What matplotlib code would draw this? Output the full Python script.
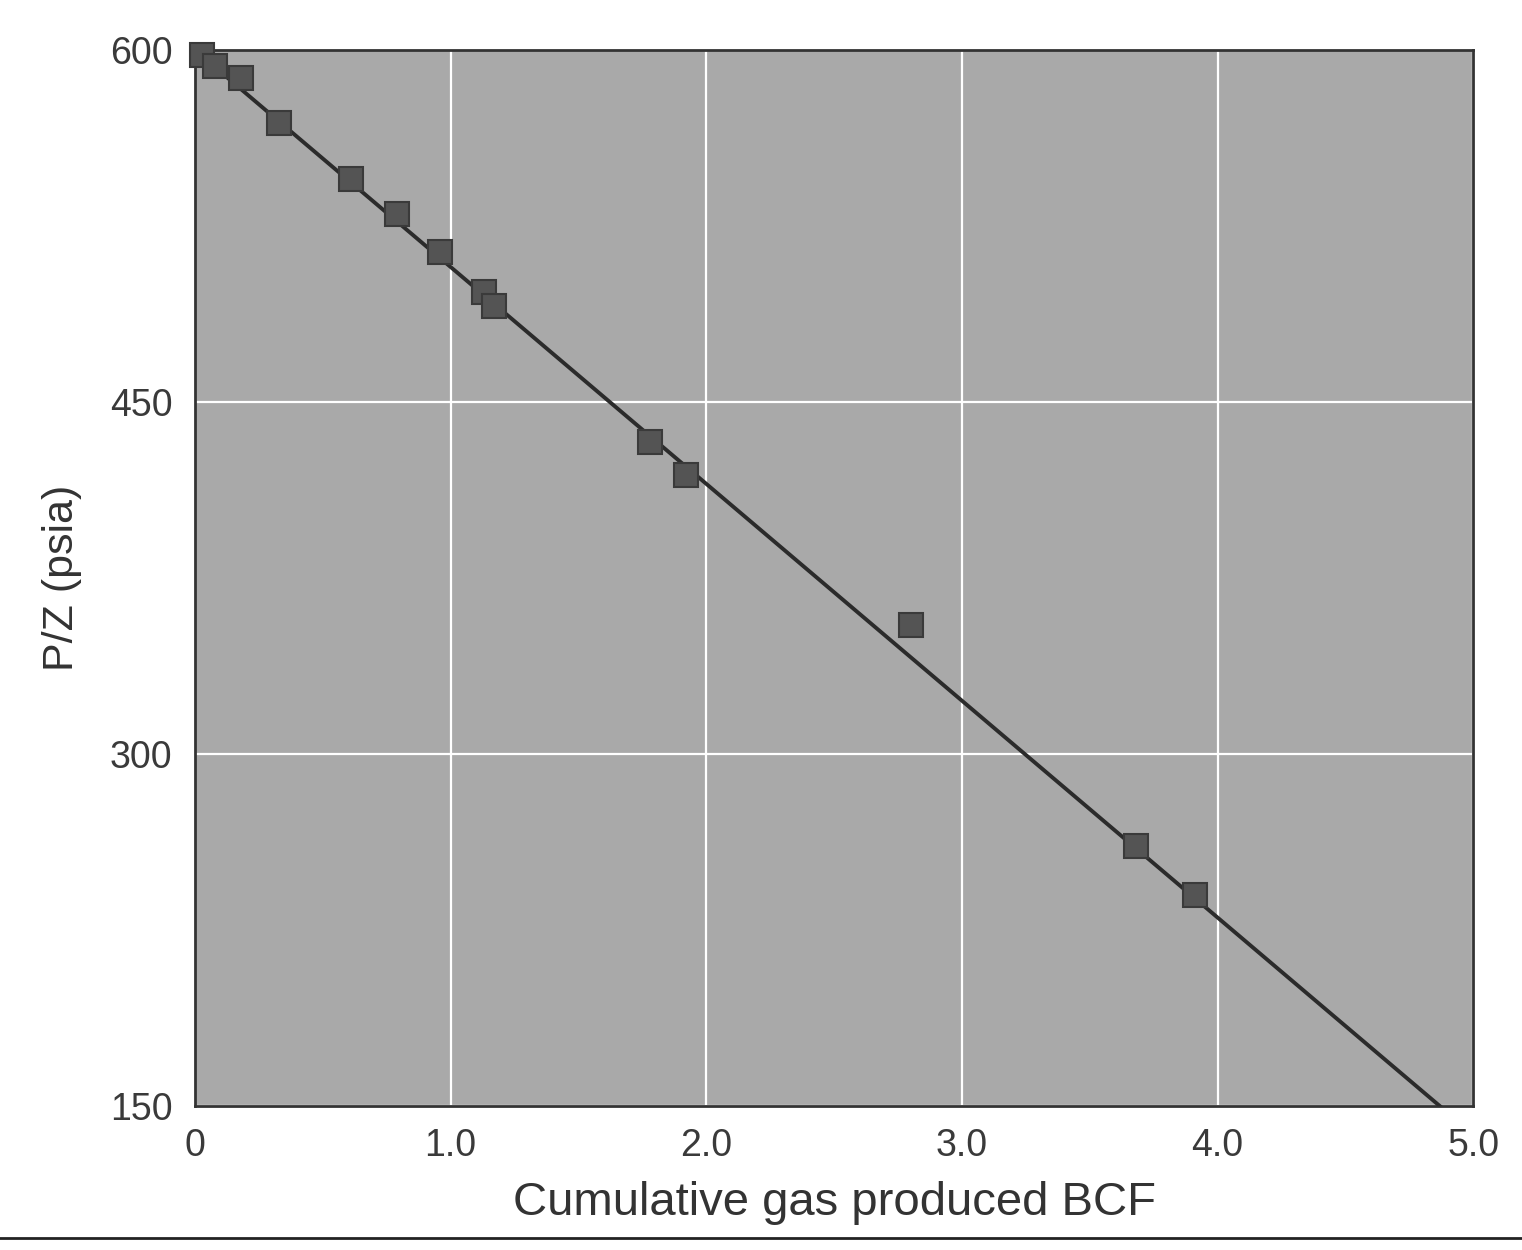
import numpy as np
import matplotlib.pyplot as plt
from matplotlib.lines import Line2D

plt.rcParams['font.family'] = ['Liberation Sans', 'DejaVu Sans']

# cumulative gas produced (BCF) and P/Z (psia)
gp = [0.03, 0.08, 0.18, 0.33, 0.61, 0.79, 0.96, 1.13, 1.17, 1.78, 1.92, 2.80, 3.68, 3.91]
pz = [598, 593, 588, 569, 545, 530, 514, 497, 491, 433, 419, 355, 261, 240]

# straight-line fit drawn on the chart
line_x = [0.0, 4.87]
line_y = [600, 150]

xticks = [0, 1.0, 2.0, 3.0, 4.0, 5.0]
xtick_labels = ['0', '1.0', '2.0', '3.0', '4.0', '5.0']
yticks = [150, 300, 450, 600]

fig = plt.figure(figsize=(15.22, 12.5), dpi=100)
ax = fig.add_axes([0.128, 0.115, 0.84, 0.845])
ax.set_facecolor('#a9a9a9')

ax.plot(line_x, line_y, color='#2b2b2b', linewidth=2.8, zorder=3)
ax.plot(gp, pz, linestyle='none', marker='s', markersize=17,
        markerfacecolor='#545454', markeredgecolor='#3a3a3a',
        markeredgewidth=1.5, clip_on=False, zorder=4)

ax.set_xlim(0, 5.0)
ax.set_ylim(150, 600)
ax.set_xticks(xticks)
ax.set_xticklabels(xtick_labels)
ax.set_yticks(yticks)
ax.tick_params(length=0, labelsize=27, colors='#3a3a3a')
ax.tick_params(axis='x', pad=16)
ax.tick_params(axis='y', pad=16)
ax.grid(True, color='white', linewidth=1.6)
ax.set_axisbelow(True)
for s in ax.spines.values():
    s.set_color('#333333')
    s.set_linewidth(2)

ax.set_xlabel('Cumulative gas produced BCF', fontsize=34, color='#333333', labelpad=12)
ax.set_ylabel('P/Z (psia)', fontsize=31, color='#333333', labelpad=20)

# page rule under the figure
fig.add_artist(Line2D([0, 1], [0.01, 0.01], color='#222222', linewidth=2))

fig.savefig('out.png', dpi=100)
